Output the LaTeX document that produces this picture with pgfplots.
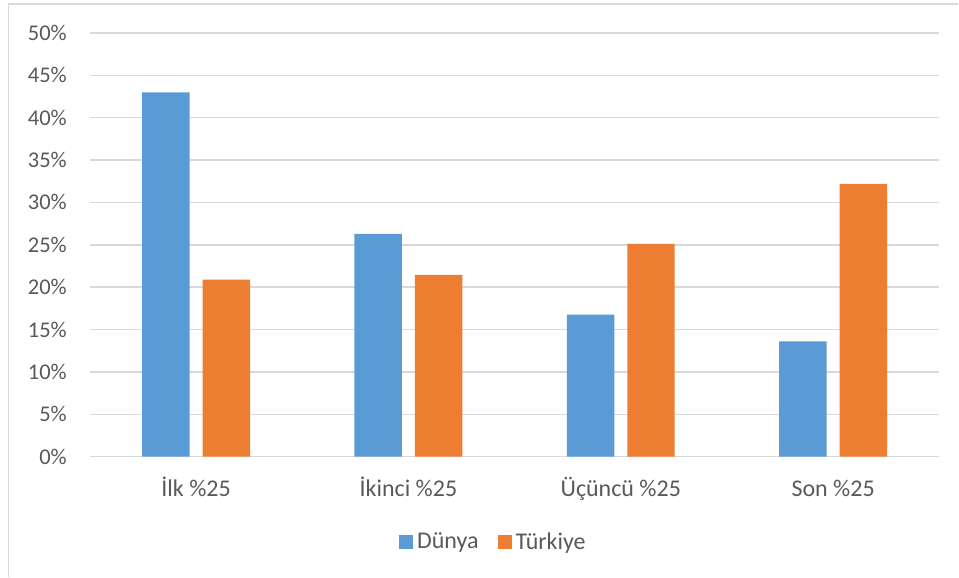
\documentclass[border=0pt]{standalone}
\usepackage{fontspec}
\setmainfont{Carlito}
\usepackage{pgfplots}
\pgfplotsset{compat=1.18}
\definecolor{cblue}{HTML}{5B9BD5}
\definecolor{corange}{HTML}{ED7D31}
\definecolor{cgrid}{HTML}{D9D9D9}
\definecolor{ctext}{HTML}{595959}
\begin{document}
\begin{tikzpicture}[x=1bp,y=1bp]
\path (0,0) rectangle (959,577);
\draw[cgrid, line width=1.5bp] (8.5,0) -- (8.5,573) -- (959,573);
\begin{axis}[
  at={(90bp,120bp)}, anchor=south west,
  scale only axis, width=850bp, height=424bp,
  ybar=13bp, bar width=47.5bp,
  xmin=-0.5, xmax=3.5, ymin=0, ymax=50,
  xtick=data,
  xticklabels={İlk \%25, İkinci \%25, Üçüncü \%25, Son \%25},
  ytick distance=5,
  yticklabel={\pgfmathprintnumber{\tick}\%},
  /pgf/number format/assume math mode=true,
  major tick length=0pt,
  axis x line*=bottom, axis y line*=left,
  x axis line style={draw=cgrid, line width=1.5bp},
  y axis line style={draw=none},
  ymajorgrids, grid style={draw=cgrid, line width=1.5bp},
  tick label style={text=ctext},
  yticklabel style={font=\fontsize{22.5bp}{24bp}\selectfont, anchor=base east, inner sep=0pt, xshift=-23bp, yshift=-7.5bp},
  xticklabel style={font=\fontsize{24bp}{26bp}\selectfont, anchor=base, inner sep=0pt, yshift=-40bp},
  legend style={at={(0.475,-0.2005)}, anchor=center, draw=none,
    font=\fontsize{24bp}{26bp}\selectfont, text=ctext,
    legend columns=2,
    /tikz/every odd column/.append style={column sep=2bp},
    /tikz/every even column/.append style={column sep=17bp}},
  legend image code/.code={\fill[#1] (0bp,-7bp) rectangle (14bp,7bp);},
]
\addplot[fill=cblue, draw=none] coordinates {(0,43.0) (1,26.3) (2,16.75) (3,13.6)};
\addplot[fill=corange, draw=none] coordinates {(0,20.9) (1,21.45) (2,25.1) (3,32.2)};
\legend{Dünya, Türkiye}
\end{axis}
\end{tikzpicture}
\end{document}
